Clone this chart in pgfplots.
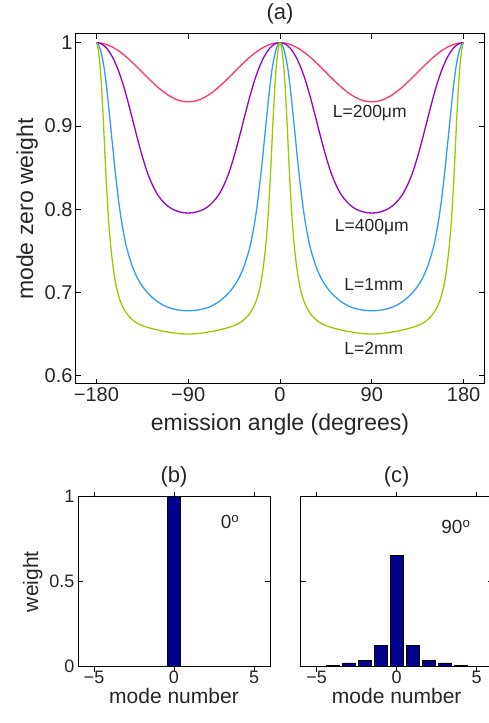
\documentclass[border=0pt]{standalone}
\usepackage{fontspec}
\setmainfont{Liberation Sans}
\usepackage{pgfplots}
\pgfplotsset{compat=1.18}

\definecolor{cR}{RGB}{255,51,102}
\definecolor{cP}{RGB}{153,0,204}
\definecolor{cB}{RGB}{51,153,255}
\definecolor{cG}{RGB}{153,204,0}
\definecolor{navy}{RGB}{0,0,140}

\pgfplotsset{
  mstyle/.style={
    scale only axis,
    anchor=south west,
    axis line style={line width=1pt},
    tick align=inside,
    xtick pos=both, ytick pos=both,
    major tick length=5pt,
    tick style={line width=0.8pt, black},
    tick label style={font=\fontsize{20}{24}\selectfont, text=black!85},
    label style={font=\fontsize{23}{27}\selectfont, text=black!85},
    title style={font=\fontsize{22}{26}\selectfont, text=black!85},
  },
  small/.style={
    tick label style={font=\fontsize{18}{22}\selectfont, text=black!85},
    xticklabel style={yshift=4pt},
    label style={font=\fontsize{21}{25}\selectfont, text=black!85},
    xlabel style={yshift=3pt},
  },
  curve/.style={line width=1.3pt, mark=none, smooth},
}

\begin{document}
\begin{tikzpicture}
\useasboundingbox (0pt,0pt) rectangle (488pt,723pt);

% (a) mode zero weight vs emission angle
\begin{axis}[mstyle,
  at={(76pt,339pt)}, width=408pt, height=350pt,
  xmin=-200, xmax=200, ymin=0.59, ymax=1.0105,
  xtick={-180,-90,0,90,180}, xticklabels={−180,−90,0,90,180},
  ytick={0.6,0.7,0.8,0.9,1}, yticklabels={0.6,0.7,0.8,0.9,1},
  xlabel={emission angle (degrees)}, ylabel={mode zero weight},
  xlabel style={yshift=-5pt},
  title={(a)},
]
% L=200um
\addplot[curve, cR] coordinates {
(-180,1.0000) (-175,0.9995) (-170,0.9979) (-165,0.9952) (-160,0.9917) (-155,0.9873)
(-150,0.9823) (-145,0.9766) (-140,0.9707) (-135,0.9645) (-130,0.9583) (-125,0.9524)
(-120,0.9468) (-115,0.9417) (-110,0.9373) (-105,0.9338) (-100,0.9311) (-95,0.9295)
(-90,0.9290) (-85,0.9295) (-80,0.9311) (-75,0.9338) (-70,0.9373) (-65,0.9417)
(-60,0.9468) (-55,0.9524) (-50,0.9583) (-45,0.9645) (-40,0.9707) (-35,0.9766)
(-30,0.9823) (-25,0.9873) (-20,0.9917) (-15,0.9952) (-10,0.9979) (-5,0.9995)
(0,1.0000) (5,0.9995) (10,0.9979) (15,0.9952) (20,0.9917) (25,0.9873)
(30,0.9823) (35,0.9766) (40,0.9707) (45,0.9645) (50,0.9583) (55,0.9524)
(60,0.9468) (65,0.9417) (70,0.9373) (75,0.9338) (80,0.9311) (85,0.9295)
(90,0.9290) (95,0.9295) (100,0.9311) (105,0.9338) (110,0.9373) (115,0.9417)
(120,0.9468) (125,0.9524) (130,0.9583) (135,0.9645) (140,0.9707) (145,0.9766)
(150,0.9823) (155,0.9873) (160,0.9917) (165,0.9952) (170,0.9979) (175,0.9995) (180,1.0000)
};
% L=400um
\addplot[curve, cP] coordinates {
(-180,1.0000) (-175,0.9985) (-170,0.9935) (-165,0.9845) (-160,0.9715) (-155,0.9545)
(-150,0.9335) (-145,0.9100) (-140,0.8860) (-135,0.8635) (-130,0.8440) (-125,0.8290)
(-120,0.8175) (-115,0.8095) (-110,0.8037) (-105,0.7998) (-100,0.7973) (-95,0.7959)
(-90,0.7955) (-85,0.7959) (-80,0.7973) (-75,0.7998) (-70,0.8037) (-65,0.8095)
(-60,0.8175) (-55,0.8290) (-50,0.8440) (-45,0.8635) (-40,0.8860) (-35,0.9100)
(-30,0.9335) (-25,0.9545) (-20,0.9715) (-15,0.9845) (-10,0.9935) (-5,0.9985)
(0,1.0000) (5,0.9985) (10,0.9935) (15,0.9845) (20,0.9715) (25,0.9545)
(30,0.9335) (35,0.9100) (40,0.8860) (45,0.8635) (50,0.8440) (55,0.8290)
(60,0.8175) (65,0.8095) (70,0.8037) (75,0.7998) (80,0.7973) (85,0.7959)
(90,0.7955) (95,0.7959) (100,0.7973) (105,0.7998) (110,0.8037) (115,0.8095)
(120,0.8175) (125,0.8290) (130,0.8440) (135,0.8635) (140,0.8860) (145,0.9100)
(150,0.9335) (155,0.9545) (160,0.9715) (165,0.9845) (170,0.9935) (175,0.9985) (180,1.0000)
};
% L=1mm
\addplot[curve, cB] coordinates {
(-180,1.0000) (-178,0.9977) (-176,0.9913) (-174,0.9807) (-172,0.9662) (-170,0.9469)
(-168,0.9234) (-166,0.8992) (-164,0.8747) (-162,0.8506) (-160,0.8281) (-158,0.8081)
(-156,0.7907) (-154,0.7759) (-152,0.7630) (-150,0.7521) (-145,0.7321) (-140,0.7179)
(-135,0.7076) (-130,0.6999) (-125,0.6938) (-120,0.6889) (-115,0.6851) (-110,0.6822)
(-105,0.6803) (-100,0.6790) (-95,0.6783) (-90,0.6780) (-85,0.6783) (-80,0.6790)
(-75,0.6803) (-70,0.6822) (-65,0.6851) (-60,0.6889) (-55,0.6938) (-50,0.6999)
(-45,0.7076) (-40,0.7179) (-35,0.7321) (-30,0.7521) (-28,0.7630) (-26,0.7759)
(-24,0.7907) (-22,0.8081) (-20,0.8281) (-18,0.8506) (-16,0.8747) (-14,0.8992)
(-12,0.9234) (-10,0.9469) (-8,0.9662) (-6,0.9807) (-4,0.9913) (-2,0.9977)
(0,1.0000) (2,0.9977) (4,0.9913) (6,0.9807) (8,0.9662) (10,0.9469)
(12,0.9234) (14,0.8992) (16,0.8747) (18,0.8506) (20,0.8281) (22,0.8081)
(24,0.7907) (26,0.7759) (28,0.7630) (30,0.7521) (35,0.7321) (40,0.7179)
(45,0.7076) (50,0.6999) (55,0.6938) (60,0.6889) (65,0.6851) (70,0.6822)
(75,0.6803) (80,0.6790) (85,0.6783) (90,0.6780) (95,0.6783) (100,0.6790)
(105,0.6803) (110,0.6822) (115,0.6851) (120,0.6889) (125,0.6938) (130,0.6999)
(135,0.7076) (140,0.7179) (145,0.7321) (150,0.7521) (152,0.7630) (154,0.7759)
(156,0.7907) (158,0.8081) (160,0.8281) (162,0.8506) (164,0.8747) (166,0.8992)
(168,0.9234) (170,0.9469) (172,0.9662) (174,0.9807) (176,0.9913) (178,0.9977) (180,1.0000)
};
% L=2mm
\addplot[curve, cG] coordinates {
(-180,1.0000) (-179,0.9969) (-178,0.9899) (-177,0.9801) (-176,0.9661) (-175,0.9475)
(-174,0.9258) (-173,0.9020) (-172,0.8758) (-171,0.8502) (-170,0.8261) (-169,0.8047)
(-168,0.7862) (-167,0.7701) (-166,0.7561) (-164,0.7340) (-162,0.7172) (-160,0.7043)
(-157,0.6910) (-154,0.6822) (-150,0.6742) (-145,0.6675) (-140,0.6630) (-135,0.6602)
(-130,0.6581) (-125,0.6563) (-120,0.6549) (-115,0.6535) (-110,0.6525) (-105,0.6514)
(-100,0.6507) (-95,0.6502) (-90,0.6500) (-85,0.6502) (-80,0.6507) (-75,0.6514)
(-70,0.6525) (-65,0.6535) (-60,0.6549) (-55,0.6563) (-50,0.6581) (-45,0.6602)
(-40,0.6630) (-35,0.6675) (-30,0.6742) (-26,0.6822) (-23,0.6910) (-20,0.7043)
(-18,0.7172) (-16,0.7340) (-14,0.7561) (-13,0.7701) (-12,0.7862) (-11,0.8047)
(-10,0.8261) (-9,0.8502) (-8,0.8758) (-7,0.9020) (-6,0.9258) (-5,0.9475)
(-4,0.9661) (-3,0.9801) (-2,0.9899) (-1,0.9969) (0,1.0000) (1,0.9969)
(2,0.9899) (3,0.9801) (4,0.9661) (5,0.9475) (6,0.9258) (7,0.9020)
(8,0.8758) (9,0.8502) (10,0.8261) (11,0.8047) (12,0.7862) (13,0.7701)
(14,0.7561) (16,0.7340) (18,0.7172) (20,0.7043) (23,0.6910) (26,0.6822)
(30,0.6742) (35,0.6675) (40,0.6630) (45,0.6602) (50,0.6581) (55,0.6563)
(60,0.6549) (65,0.6535) (70,0.6525) (75,0.6514) (80,0.6507) (85,0.6502)
(90,0.6500) (95,0.6502) (100,0.6507) (105,0.6514) (110,0.6525) (115,0.6535)
(120,0.6549) (125,0.6563) (130,0.6581) (135,0.6602) (140,0.6630) (145,0.6675)
(150,0.6742) (154,0.6822) (157,0.6910) (160,0.7043) (162,0.7172) (164,0.7340)
(166,0.7561) (167,0.7701) (168,0.7862) (169,0.8047) (170,0.8261) (171,0.8502)
(172,0.8758) (173,0.9020) (174,0.9258) (175,0.9475) (176,0.9661) (177,0.9801)
(178,0.9899) (179,0.9969) (180,1.0000)
};
\begin{scope}[every node/.style={font=\fontsize{17.5}{20}\selectfont, text=black!85}]
\node at (axis cs:88,0.9156) {L=200μm};
\node at (axis cs:90,0.779) {L=400μm};
\node at (axis cs:92,0.710) {L=1mm};
\node at (axis cs:92,0.633) {L=2mm};
\end{scope}
\end{axis}

% (b) mode weights at 0 degrees
\begin{axis}[mstyle, small,
  at={(78pt,56.3pt)}, width=192pt, height=170pt,
  xmin=-6, xmax=6, ymin=0, ymax=1,
  xtick={-5,0,5}, xticklabels={−5,0,5},
  ytick={0,0.5,1}, yticklabels={0,0.5,1},
  xlabel={mode number}, ylabel={weight}, title={(b)},
  ybar, bar width=0.8, axis on top,
]
\addplot[fill=navy, draw=black, line width=0.6pt] coordinates {(0,1)};
\node[font=\fontsize{19}{23}\selectfont, text=black!85] at (axis cs:3.5,0.85) {0\textsuperscript{o}};
\end{axis}

% (c) mode weights at 90 degrees
\begin{axis}[mstyle, small,
  at={(300.7pt,56.3pt)}, width=192pt, height=170pt,
  xmin=-6, xmax=6, ymin=0, ymax=1,
  xtick={-5,0,5}, xticklabels={−5,0,5},
  ytick={0,0.5,1}, yticklabels={},
  xlabel={mode number}, title={(c)},
  ybar, bar width=0.8, axis on top,
]
\addplot[fill=navy, draw=black, line width=0.6pt] coordinates {
(-5,0.002) (-4,0.006) (-3,0.022) (-2,0.038) (-1,0.127) (0,0.655)
(1,0.127) (2,0.038) (3,0.022) (4,0.006) (5,0.002)};
\node[font=\fontsize{19}{23}\selectfont, text=black!85] at (axis cs:3.7,0.82) {90\textsuperscript{o}};
\end{axis}
\end{tikzpicture}
\end{document}
